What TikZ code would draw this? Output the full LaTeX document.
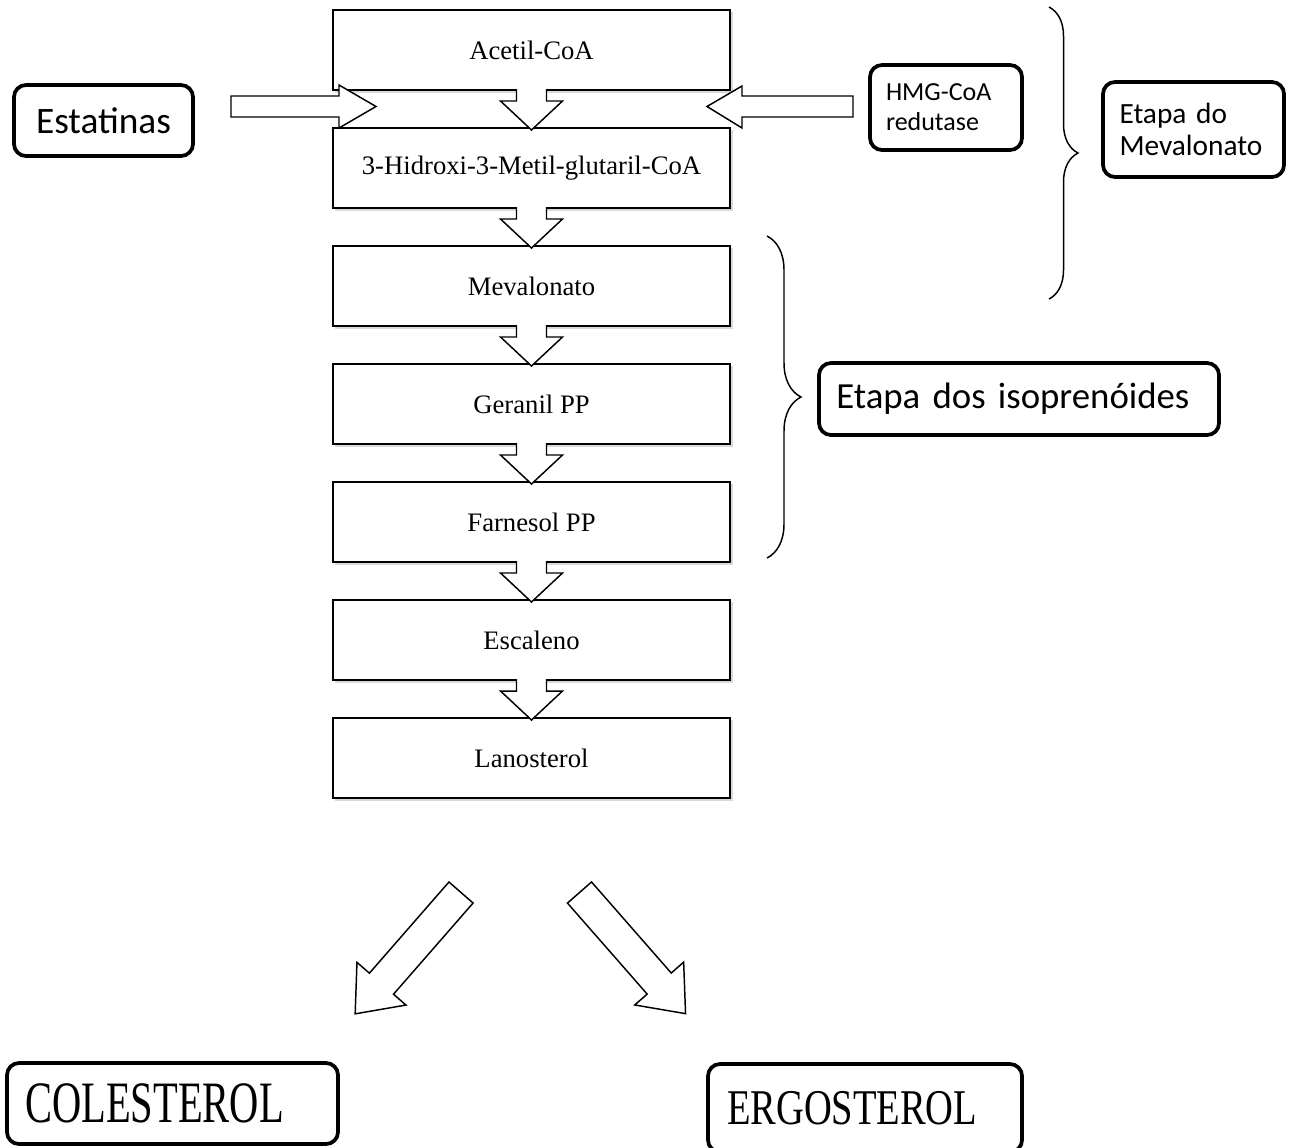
\documentclass[tikz,border=0pt]{standalone}
\usepackage{fontspec}
\setmainfont{Liberation Serif}
\newfontfamily\calibri{Carlito}
\usepackage{graphicx}
\usetikzlibrary{calc,decorations.pathreplacing}

\tikzset{
  etapa/.style={draw=black, line width=1.3pt, fill=white, minimum width=297.75pt, minimum height=60pt,
    inner sep=0pt, outer sep=0pt, font=\fontsize{20pt}{24.5pt}\selectfont},
  sombra/.style={fill=black!15, draw=none},
  rotulo/.style={draw=black, line width=2.8pt, rounded corners=9pt, fill=white, inner sep=0pt, align=left},
  seta/.style={draw=black, line width=1.1pt, fill=white, line join=miter},
  chave/.style={decorate, decoration={brace, amplitude=#1}, line width=1.1pt}
}

\newcommand{\setabaixo}[2]{%
  \fill[white] ($(#1.south)+(-14.5,-2.5)$) -- ($(#1.south)+(-15,11)$) -- ($(#1.south)+(-31,11)$)
    -- ($(#2.north)+(0,2)$) -- ($(#1.south)+(31,11)$) -- ($(#1.south)+(15,11)$) -- ($(#1.south)+(14.5,-2.5)$) -- cycle;
  \draw[seta] ($(#1.south)+(-15,-0.9)$) -- ($(#1.south)+(-15,11)$) -- ($(#1.south)+(-31,11)$)
    -- ($(#2.north)+(0,2)$) -- ($(#1.south)+(31,11)$) -- ($(#1.south)+(15,11)$) -- ($(#1.south)+(15,-0.9)$);}

\begin{document}
\begin{tikzpicture}[x=0.75pt, y=-0.75pt]
    \useasboundingbox (0,0) rectangle (1294,1147);

    \foreach \yc in {50,168,286,404,522,640,758}
        \fill[sombra] (335,\yc-38) rectangle (732.5,\yc+42.5);

    \node[etapa] (acetil) at (531.5,50) {Acetil-CoA};
    \node[etapa] (hidroxi) at (531.5,168) {3-Hidroxi-3-Metil-glutaril-CoA};
    \node[etapa] (mevalonato) at (531.5,286) {Mevalonato};
    \node[etapa] (geranil) at (531.5,404) {Geranil PP};
    \node[etapa] (farnesol) at (531.5,522) {Farnesol PP};
    \node[etapa] (escaleno) at (531.5,640) {Escaleno};
    \node[etapa] (lanosterol) at (531.5,758) {Lanosterol};

    \setabaixo{acetil}{hidroxi}
    \setabaixo{hidroxi}{mevalonato}
    \setabaixo{mevalonato}{geranil}
    \setabaixo{geranil}{farnesol}
    \setabaixo{farnesol}{escaleno}
    \setabaixo{escaleno}{lanosterol}

    \filldraw[seta] (231,96) -- (339,96) -- (339,85) -- (376,106.5) -- (339,128) -- (339,117) -- (231,117) -- cycle;
    \filldraw[seta] (853,96) -- (742,96) -- (742,86) -- (707,106.5) -- (742,128) -- (742,117) -- (853,117) -- cycle;

    \node[rotulo, minimum width=134.25pt, minimum height=53.25pt, font=\calibri\fontsize{28pt}{32pt}\selectfont] (estatinas) at (103.5,120.5) {Estatinas};
    \node[rotulo, minimum width=114pt, minimum height=63.75pt, text width=90pt, font=\calibri\fontsize{19.5pt}{22.5pt}\selectfont] (redutase) at (946,107.5) {HMG-CoA\\redutase};
    \node[rotulo, minimum width=135.75pt, minimum height=71.25pt, text width=111pt, font=\calibri\fontsize{22pt}{23.5pt}\selectfont] (etapamev) at (1193.5,129.5) {Etapa do\\Mevalonato};
    \node[rotulo, minimum width=300pt, minimum height=54pt, text width=274pt, font=\calibri\fontsize{27.6pt}{32pt}\selectfont] (etapaiso) at (1019,399) {Etapa dos isoprenóides};

    \draw[chave=21.75pt] (1049,7) -- (1049,299);
    \draw[chave=25.5pt] (767,236) -- (767,558);

    \begin{scope}[shift={(461,892.5)}, rotate=228.9]
        \filldraw[seta] (0,16) -- (121,16) -- (121,32.5) -- (161,0) -- (121,-32.5) -- (121,-16) -- (0,-16) -- cycle;
    \end{scope}
    \begin{scope}[shift={(579.5,892.5)}, rotate=-48.8]
        \filldraw[seta] (0,16) -- (121,16) -- (121,32.5) -- (161,0) -- (121,-32.5) -- (121,-16) -- (0,-16) -- cycle;
    \end{scope}

    \node[rotulo, minimum width=248.25pt, minimum height=60.75pt, text width=221pt] (colesterol) at (172.5,1103.5)
        {\fontsize{44pt}{48pt}\selectfont\raisebox{-2pt}{\scalebox{0.69}[1]{COLESTEROL}}};
    \node[rotulo, minimum width=235.5pt, minimum height=66pt, text width=207pt] (ergosterol) at (865,1108)
        {\fontsize{37.5pt}{40pt}\selectfont\scalebox{0.77}[1]{ERGOSTEROL}};

\end{tikzpicture}
\end{document}
